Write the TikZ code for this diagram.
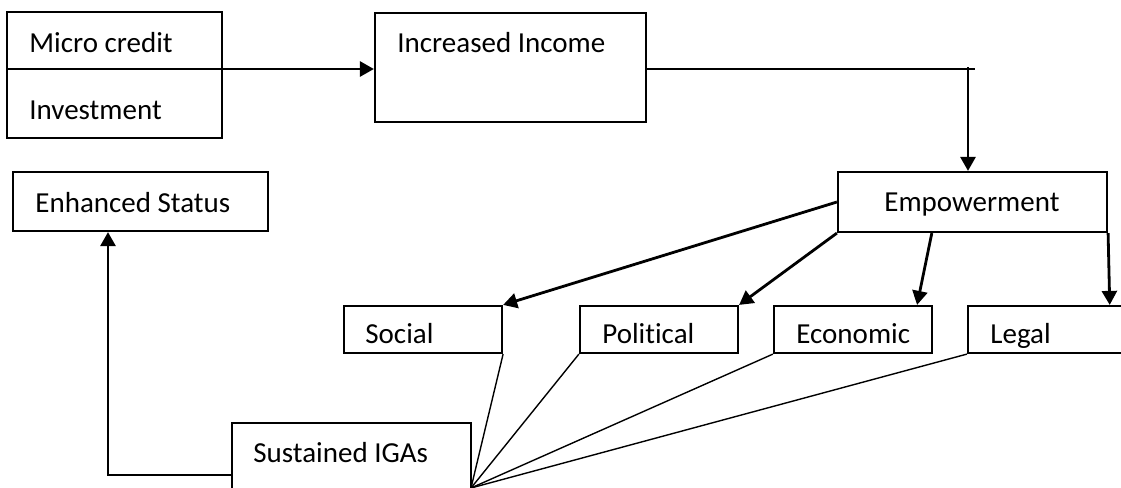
\documentclass[tikz,border=0pt]{standalone}
\usepackage{fontspec}
\setmainfont{Carlito}[Ligatures=NoCommon]
\usepackage{tikz}
\usetikzlibrary{arrows.meta,calc}

\begin{document}
\begin{tikzpicture}[x=0.5pt, y=-0.5pt, font=\fontsize{14.5}{17}\selectfont]
\tikzstyle{box} = [draw, line width=1.1pt, inner sep=0pt]
\tikzstyle{txt} = [anchor=base west, inner sep=0pt]
\tikzstyle{arr} = [line width=1.4pt, -{Triangle[length=7pt, width=7.5pt]}]
\tikzstyle{fan} = [line width=0.7pt]

\useasboundingbox (0,0) rectangle (1121,488);

% boxes
\node[box, minimum width=107.5pt, minimum height=63pt] (1) at (114.5,75) {};
\node[box, minimum width=135.5pt, minimum height=54.5pt] (2) at (510.5,67.5) {};
\node[box, minimum width=134.5pt, minimum height=30pt] (3) at (972.5,202) {};
\node[box, minimum width=127.5pt, minimum height=29.5pt] (4) at (140.5,201.5) {};
\node[box, minimum width=79pt, minimum height=23.5pt] (5) at (423,329.5) {};
\node[box, minimum width=79pt, minimum height=23.5pt] (6) at (659,329.5) {};
\node[box, minimum width=79pt, minimum height=23.5pt] (7) at (853,329.5) {};
\node[box, minimum width=86pt, minimum height=23.5pt] (8) at (1054,329.5) {};
\node[box, minimum width=119.5pt, minimum height=43.5pt] (9) at (351.5,466.5) {};

% texts
\node[txt] (1a) at (29,52) {Micro credit};
\node[txt] (1b) at (29,119) {Investment};
\node[txt] (2a) at (397,52) {Increased Income};
\node[txt] (3a) at (884,211) {Empowerment};
\node[txt] (4a) at (35,212) {Enhanced Status};
\node[txt] (5a) at (365,343) {Social};
\node[txt] (6a) at (602,343) {Political};
\node[txt] (7a) at (796,343) {Economic};
\node[txt] (8a) at (990,343) {Legal};
\node[txt] (9a) at (253,462) {Sustained IGAs};

\coordinate (c1) at (7,69);
\coordinate (c2) at (968,67);
\coordinate (c3) at (108,475);
\coordinate (f) at (471,488);

\draw[arr] (c1) -- (c1 -| 2.west);
\draw[line width=1.1pt] (2.east |- c1) -- (975,69);
\draw[arr] (c2) -- (c2 |- 3.north);

\draw[arr] (3.west) -- (5.north east);
\draw[arr] (3.south west) -- (6.north east);
\draw[arr] ($(3.south west)!0.35!(3.south east)$) -- ($(7.north west)!0.9!(7.north east)$);
\draw[arr] (3.south east) -- ($(8.north west)!0.82!(8.north east)$);

\draw[fan] (f) -- (5.south east);
\draw[fan] (f) -- (6.south west);
\draw[fan] (f) -- (7.south west);
\draw[fan] (f) -- (8.south west);

\draw[arr] (c3 -| 9.west) -- (c3) -- (c3 |- 4.south);
\end{tikzpicture}
\end{document}
